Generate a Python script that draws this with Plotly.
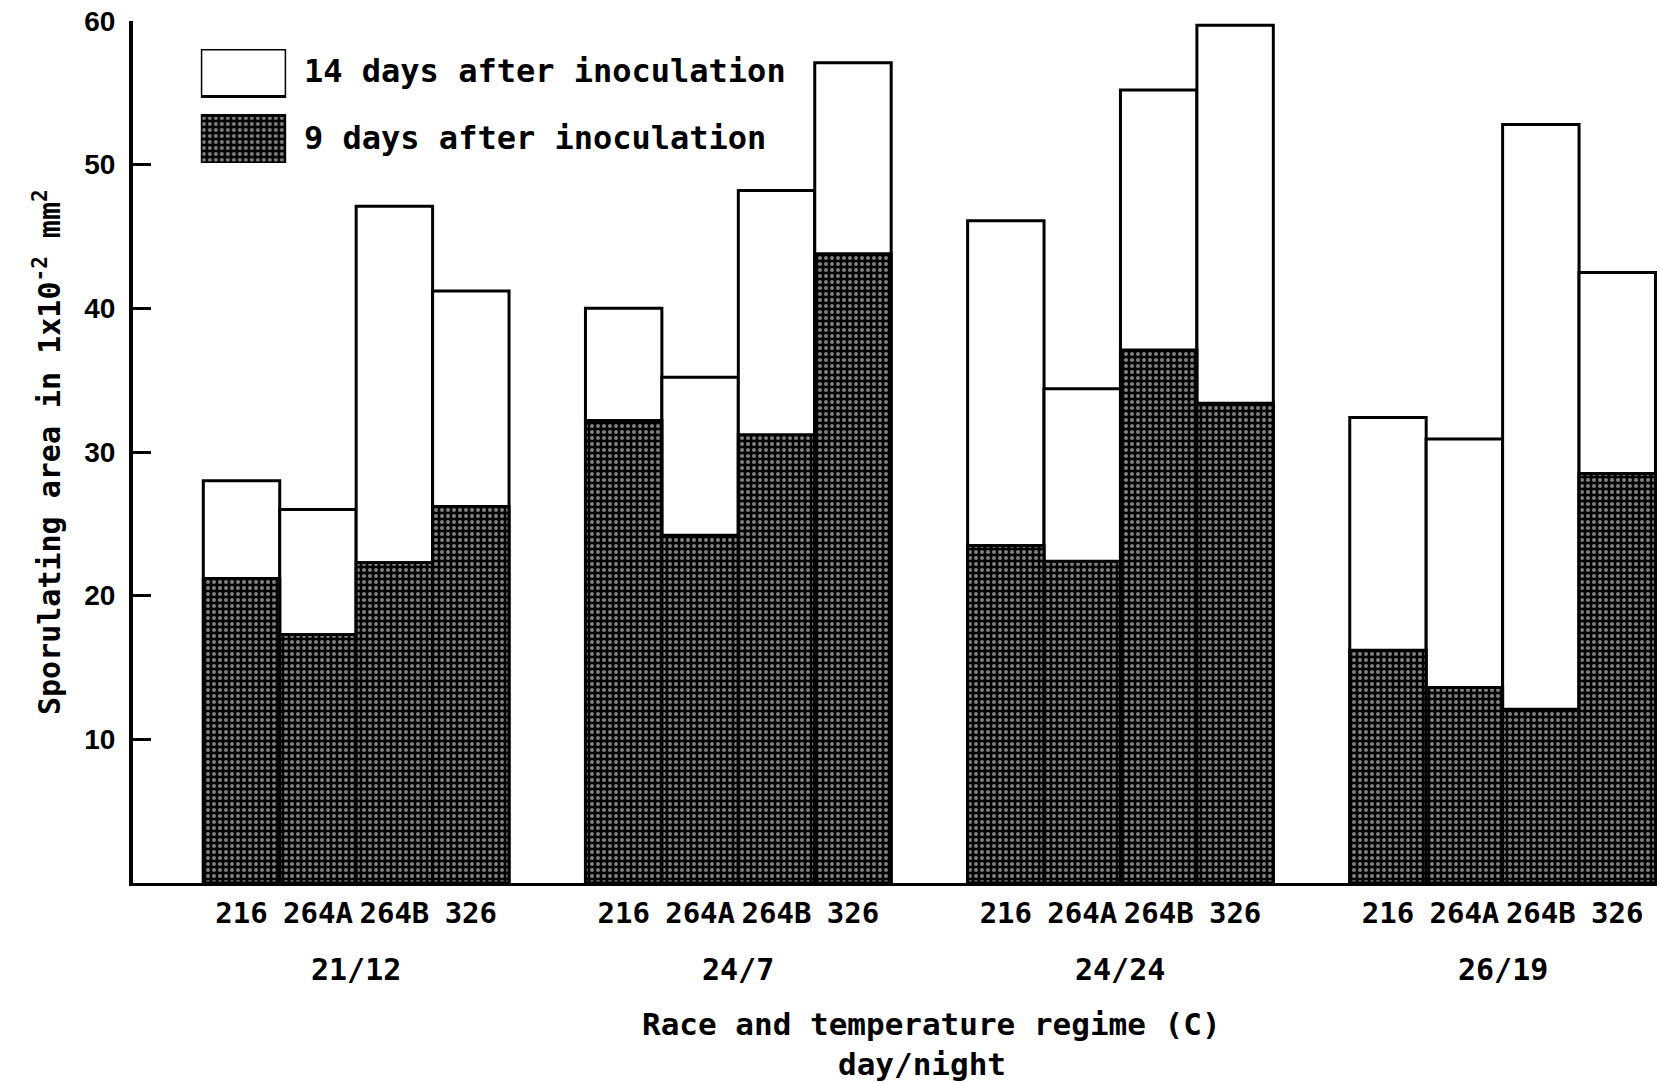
import plotly.graph_objects as go

# Temperature regimes (day/night, C) and races
regimes = ["21/12", "24/7", "24/24", "26/19"]
races = ["216", "264A", "264B", "326"]

# Sporulating area (1x10^-2 mm^2), one list per regime, in race order
area_14d = {
    "21/12": [28.0, 26.0, 47.1, 41.2],
    "24/7": [40.0, 35.2, 48.2, 57.1],
    "24/24": [46.1, 34.4, 55.2, 59.7],
    "26/19": [32.4, 30.9, 52.8, 42.5],
}
area_9d = {
    "21/12": [21.2, 17.3, 22.3, 26.2],
    "24/7": [32.2, 24.2, 31.2, 43.8],
    "24/24": [23.5, 22.4, 37.1, 33.4],
    "26/19": [16.2, 13.6, 12.1, 28.5],
}

y_ticks = [10, 20, 30, 40, 50, 60]

# Bars sit side by side inside a regime; one empty slot separates regimes
GROUP_STEP = len(races) + 1
xs, ticktext, y14, y9 = [], [], [], []
for g, reg in enumerate(regimes):
    for i, race in enumerate(races):
        xs.append(g * GROUP_STEP + i)
        ticktext.append(race)
        y14.append(area_14d[reg][i])
        y9.append(area_9d[reg][i])

MONO = "DejaVu Sans Mono"


def mono(size):
    return dict(family=MONO, size=size, color="black", weight="bold")


dots = dict(shape=".", fgcolor="white", bgcolor="black", size=6, solidity=0.36)
outline = dict(color="black", width=3)

fig = go.Figure()
fig.add_trace(go.Bar(
    x=xs, y=y14, width=1, name="14 days after inoculation",
    marker=dict(color="white", line=outline),
))
fig.add_trace(go.Bar(
    x=xs, y=y9, width=1, name="9 days after inoculation",
    marker=dict(color="black", line=outline, pattern=dots),
))

# Key swatches drawn as bars in a small inset
fig.add_trace(go.Bar(
    x=[1], y=[1], orientation="h", width=0.714, xaxis="x2", yaxis="y2",
    marker=dict(color="white", line=outline), hoverinfo="skip",
))
fig.add_trace(go.Bar(
    x=[1], y=[0], orientation="h", width=0.714, xaxis="x2", yaxis="y2",
    marker=dict(color="black", line=outline, pattern=dots), hoverinfo="skip",
))

annotations = []
for g, reg in enumerate(regimes):
    annotations.append(dict(
        x=g * GROUP_STEP + (len(races) - 1) / 2, xref="x",
        y=0, yref="paper", yshift=-86, yanchor="middle", xanchor="center",
        text=reg, showarrow=False, font=mono(30),
    ))
annotations += [
    dict(x=0.524, xref="paper", y=0, yref="paper", yshift=-141,
         xanchor="center", yanchor="middle", showarrow=False,
         text="Race and temperature regime (C)", font=mono(31)),
    dict(x=0.518, xref="paper", y=0, yref="paper", yshift=-181,
         xanchor="center", yanchor="middle", showarrow=False,
         text="day/night", font=mono(31)),
    dict(x=0, xref="paper", xshift=-86, y=0.5, yref="paper",
         xanchor="center", yanchor="middle", textangle=-90, showarrow=False,
         text="Sporulating area in 1x10<sup>-2</sup> mm<sup>2</sup>",
         font=mono(30)),
    dict(x=0.111, xref="paper", y=0.942, yref="paper",
         xanchor="left", yanchor="middle", showarrow=False,
         text="14 days after inoculation", font=mono(32)),
    dict(x=0.111, xref="paper", y=0.8643, yref="paper",
         xanchor="left", yanchor="middle", showarrow=False,
         text="9 days after inoculation", font=mono(32)),
]

fig.update_layout(
    width=1660, height=1083,
    margin=dict(l=133, r=3, t=21, b=200),
    paper_bgcolor="white", plot_bgcolor="white",
    barmode="overlay", showlegend=False,
    xaxis=dict(
        range=[-1.42, 18.52], tickvals=xs, ticktext=ticktext,
        showgrid=False, zeroline=False, ticks="",
        showline=True, linecolor="black", linewidth=3,
        tickfont=mono(29),
        ticklabelstandoff=2,
    ),
    yaxis=dict(
        range=[0, 60], tickvals=y_ticks,
        showgrid=False, zeroline=False,
        showline=True, linecolor="black", linewidth=4,
        ticks="inside", ticklen=18, tickwidth=3, tickcolor="black",
        tickfont=dict(family="Liberation Sans", size=28, color="black", weight="bold"),
        ticklabelstandoff=8,
    ),
    xaxis2=dict(domain=[0.0445, 0.1005], range=[0, 1], anchor="y2", visible=False),
    yaxis2=dict(domain=[0.8353, 0.9675], range=[-0.357, 1.357], anchor="x2", visible=False),
    annotations=annotations,
)

fig.write_html("out.html")
